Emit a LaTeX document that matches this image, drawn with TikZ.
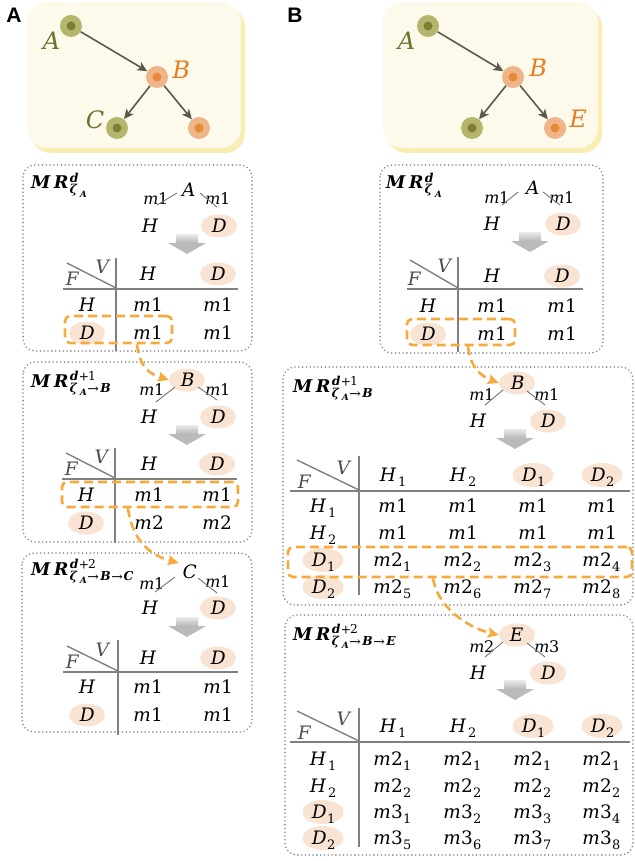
\documentclass[tikz,border=0pt]{standalone}
\usepackage{fontspec}
\usepackage{unicode-math}
\setmathfont{DejaVu Math TeX Gyre}
\usetikzlibrary{arrows.meta,shapes.geometric}

\newfontfamily\panelfont{Liberation Sans}

\definecolor{cream}{HTML}{FDF9EB}
\definecolor{creamshadow}{HTML}{FAEDB2}
\definecolor{olivelt}{HTML}{B6B56E}
\definecolor{olivedk}{HTML}{7C7E32}
\definecolor{olivetxt}{HTML}{70702E}
\definecolor{orangelt}{HTML}{EEB688}
\definecolor{orangedk}{HTML}{E8893A}
\definecolor{orangetxt}{HTML}{E47E24}
\definecolor{edgegrey}{HTML}{585B4C}
\definecolor{peach}{HTML}{F9E3D3}
\definecolor{flowor}{HTML}{F7A93C}
\definecolor{boxgrey}{HTML}{8C8C8C}
\definecolor{rulegrey}{HTML}{808080}

\tikzset{
  olivept/.style={circle,fill=olivelt,minimum size=22pt,inner sep=0pt},
  orangept/.style={circle,fill=orangelt,minimum size=22pt,inner sep=0pt},
  treearrow/.style={draw=edgegrey,line width=1.6pt,-{Stealth[length=10pt,width=9pt,inset=2.5pt]}},
  panellbl/.style={inner sep=0pt,font=\panelfont\bfseries\fontsize{21}{21}\selectfont},
  toplbl/.style={inner sep=0pt,font=\fontsize{24}{24}\selectfont},
  mrbox/.style={draw=boxgrey,line width=1.8pt,line cap=round,dash pattern=on 0pt off 3.8pt,rounded corners=12pt},
  mrtitle/.style={anchor=base west,inner sep=0pt,font=\fontsize{17.5}{17.5}\selectfont},
  bigtxt/.style={inner sep=0pt,text height=13.5pt,text depth=0pt,font=\fontsize{18.5}{18.5}\selectfont},
  mtxt/.style={inner sep=0pt,text height=11.7pt,text depth=0pt,font=\fontsize{16}{16}\selectfont},
  fvtxt/.style={bigtxt,text=black!70},
  hlnode/.style={bigtxt,ellipse,fill=peach,minimum width=36pt,minimum height=23pt},
  hlwide/.style={hlnode,minimum width=41pt,minimum height=24pt},
  twig/.style={draw=black!55,line width=0.9pt},
  tabrule/.style={draw=rulegrey,line width=2pt},
  diag/.style={draw=rulegrey,line width=1.4pt},
  selbox/.style={draw=flowor,line width=2.6pt,dash pattern=on 9pt off 5pt,rounded corners=5pt,inner sep=0pt},
  flowarrow/.style={draw=flowor,line width=2.6pt,dash pattern=on 9pt off 5pt,-{Stealth[length=11pt,width=10pt,inset=2pt]}},
  greyarrow/.pic={
    \shade[top color=black!8,bottom color=black!28] (-11,-9) rectangle (11,0);
    \fill[black!27] (-19,0) -- (19,0) -- (0,11) -- cycle;
  },
}

\begin{document}
\begin{tikzpicture}[x=1pt,y=-1pt]
\useasboundingbox (0,0) rectangle (634,861);

\node[panellbl] (pA) at (14,15) {A};
\node[panellbl] (pB) at (295,15) {B};

% tree A
\fill[creamshadow,rounded corners=20pt] (31,7) rectangle (245,153);
\fill[cream,rounded corners=20pt] (27,2) rectangle (241,148);
\node[olivept] (taA) at (71,26) {};
\node[orangept] (taB) at (157,77) {};
\node[olivept] (taC) at (117,128) {};
\node[orangept] (taX) at (199,128) {};
\fill[olivedk] (taA) circle[radius=4.5];
\fill[orangedk] (taB) circle[radius=4.5];
\fill[olivedk] (taC) circle[radius=4.5];
\fill[orangedk] (taX) circle[radius=4.5];
\draw[treearrow] (taA) -- (taB);
\draw[treearrow] (taB) -- (taC);
\draw[treearrow] (taB) -- (taX);
\node[toplbl,text=olivetxt] (laA) at (50,41) {$A$};
\node[toplbl,text=orangetxt] (laB) at (181,70) {$B$};
\node[toplbl,text=olivetxt] (laC) at (96,120) {$C$};

% tree B
\fill[creamshadow,rounded corners=20pt] (387,7) rectangle (602,153);
\fill[cream,rounded corners=20pt] (383,2) rectangle (598,148);
\node[olivept] (tbA) at (428,26) {};
\node[orangept] (tbB) at (513,77) {};
\node[olivept] (tbX) at (472,128) {};
\node[orangept] (tbE) at (555,128) {};
\fill[olivedk] (tbA) circle[radius=4.5];
\fill[orangedk] (tbB) circle[radius=4.5];
\fill[olivedk] (tbX) circle[radius=4.5];
\fill[orangedk] (tbE) circle[radius=4.5];
\draw[treearrow] (tbA) -- (tbB);
\draw[treearrow] (tbB) -- (tbX);
\draw[treearrow] (tbB) -- (tbE);
\node[toplbl,text=olivetxt] (lbA) at (405,41) {$A$};
\node[toplbl,text=orangetxt] (lbB) at (538,68) {$B$};
\node[toplbl,text=orangetxt] (lbE) at (578,119) {$E$};

% A, depth d
\draw[mrbox] (23,165) rectangle (252,351);
\node[mrtitle] (a1t) at (29,189) {$\symbfit{MR}^{\symbfit{d}}_{\symbfit{\zeta}_{\symbfit{A}}}$};
\begin{scope}[shift={(188,190)}]
  \node[bigtxt] (a1r) at (0,0) {$A$};
  \node[mtxt] (a1ml) at (-32,9) {$m1$};
  \node[mtxt] (a1mr) at (30,9) {$m1$};
  \node[bigtxt] (a1h) at (-38,36) {$H$};
  \node[hlnode] (a1d) at (31,36) {$D$};
  \draw[twig] ([shift={(-11,3)}]a1r.center) -- ([shift={(7,-21)}]a1h.center);
  \draw[twig] ([shift={(12,3)}]a1r.center) -- ([shift={(-2,-19)}]a1d.center);
  \pic at (-1,53) {greyarrow};
  \draw[tabrule] (-72,68) -- (-72,161);
  \draw[tabrule] (-125,99) -- (50,99);
  \draw[diag] (-121,73) -- (-72,98);
  \node[fvtxt] (a1f) at (-115,89) {$F$};
  \node[fvtxt] (a1v) at (-84,77) {$V$};
  \node[bigtxt] (a1c1) at (-40,84) {$H$};
  \node[hlnode] (a1c2) at (30,84) {$D$};
  \node[bigtxt] (a1w1) at (-101,115) {$H$};
  \node[hlnode] (a1w2) at (-101,143) {$D$};
  \node[bigtxt] (a111) at (-40,115) {$m1$};
  \node[bigtxt] (a112) at (30,115) {$m1$};
  \node[bigtxt] (a121) at (-40,143) {$m1$};
  \node[bigtxt] (a122) at (30,143) {$m1$};
\end{scope}
\node[selbox,minimum width=107pt,minimum height=27pt] (a1sel) at (118.5,329.5) {};

% A, depth d+1
\draw[mrbox] (23,362) rectangle (252,542);
\node[mrtitle] (a2t) at (29,387) {$\symbfit{MR}^{\symbfit{d+1}}_{\symbfit{\zeta}_{\symbfit{A}}\rightarrow\symbfit{B}}$};
\begin{scope}[shift={(187,380)}]
  \node[hlnode] (a2r) at (0,0) {$B$};
  \node[mtxt] (a2ml) at (-35,10) {$m1$};
  \node[mtxt] (a2mr) at (31,10) {$m1$};
  \node[bigtxt] (a2h) at (-38,37) {$H$};
  \node[hlnode] (a2d) at (31,37) {$D$};
  \draw[twig] ([shift={(-12,7)}]a2r.center) -- ([shift={(7,-15)}]a2h.center);
  \draw[twig] ([shift={(11,7)}]a2r.center) -- ([shift={(-1,-17)}]a2d.center);
  \pic at (0,54) {greyarrow};
  \draw[tabrule] (-72,68) -- (-72,163);
  \draw[tabrule] (-125,99) -- (50,99);
  \draw[diag] (-121,73) -- (-72,98);
  \node[fvtxt] (a2f) at (-115,89) {$F$};
  \node[fvtxt] (a2v) at (-84,77) {$V$};
  \node[bigtxt] (a2c1) at (-38,84) {$H$};
  \node[hlnode] (a2c2) at (30,84) {$D$};
  \node[bigtxt] (a2w1) at (-101,115) {$H$};
  \node[hlnode] (a2w2) at (-101,143) {$D$};
  \node[bigtxt] (a211) at (-38,115) {$m1$};
  \node[bigtxt] (a212) at (30,115) {$m1$};
  \node[bigtxt] (a221) at (-38,143) {$m2$};
  \node[bigtxt] (a222) at (30,143) {$m2$};
\end{scope}
\node[selbox,minimum width=176pt,minimum height=25pt] (a2sel) at (150,494.5) {};

% A, depth d+2
\draw[mrbox] (22,553) rectangle (252,732);
\node[mrtitle] (a3t) at (29,575) {$\symbfit{MR}^{\symbfit{d+2}}_{\symbfit{\zeta}_{\symbfit{A}}\rightarrow\symbfit{B}\rightarrow\symbfit{C}}$};
\begin{scope}[shift={(190,572)}]
  \node[bigtxt] (a3r) at (0,0) {$C$};
  \node[mtxt] (a3ml) at (-38,12) {$m1$};
  \node[mtxt] (a3mr) at (28,10) {$m1$};
  \node[bigtxt] (a3h) at (-40,36) {$H$};
  \node[hlnode] (a3d) at (28,36) {$D$};
  \draw[twig] ([shift={(-15,5)}]a3r.center) -- ([shift={(5,-16)}]a3h.center);
  \draw[twig] ([shift={(8,6)}]a3r.center) -- ([shift={(-1,-15)}]a3d.center);
  \pic at (-3,54) {greyarrow};
  \draw[tabrule] (-72,68) -- (-72,163);
  \draw[tabrule] (-127,100) -- (48,100);
  \draw[diag] (-123,74) -- (-72,99);
  \node[fvtxt] (a3f) at (-117,90) {$F$};
  \node[fvtxt] (a3v) at (-86,78) {$V$};
  \node[bigtxt] (a3c1) at (-42,86) {$H$};
  \node[hlnode] (a3c2) at (28,86) {$D$};
  \node[bigtxt] (a3w1) at (-103,115) {$H$};
  \node[hlnode] (a3w2) at (-103,143) {$D$};
  \node[bigtxt] (a311) at (-42,115) {$m1$};
  \node[bigtxt] (a312) at (28,115) {$m1$};
  \node[bigtxt] (a321) at (-42,143) {$m1$};
  \node[bigtxt] (a322) at (28,143) {$m1$};
\end{scope}

% B, depth d
\draw[mrbox] (380,165) rectangle (603,353);
\node[mrtitle] (b1t) at (384,189) {$\symbfit{MR}^{\symbfit{d}}_{\symbfit{\zeta}_{\symbfit{A}}}$};
\begin{scope}[shift={(532,188)}]
  \node[bigtxt] (b1r) at (0,0) {$A$};
  \node[mtxt] (b1ml) at (-35,10) {$m1$};
  \node[mtxt] (b1mr) at (30,10) {$m1$};
  \node[bigtxt] (b1h) at (-40,36) {$H$};
  \node[hlnode] (b1d) at (31,36) {$D$};
  \draw[twig] ([shift={(-14,4)}]b1r.center) -- ([shift={(10,-19)}]b1h.center);
  \draw[twig] ([shift={(11,4)}]b1r.center) -- ([shift={(-3,-19)}]b1d.center);
  \pic at (-2,53) {greyarrow};
  \draw[tabrule] (-74,69) -- (-74,164);
  \draw[tabrule] (-125,101) -- (51,101);
  \draw[diag] (-122,72) -- (-74,100);
  \node[fvtxt] (b1f) at (-117,91) {$F$};
  \node[fvtxt] (b1v) at (-86,78) {$V$};
  \node[bigtxt] (b1c1) at (-40,88) {$H$};
  \node[hlnode] (b1c2) at (30,88) {$D$};
  \node[bigtxt] (b1w1) at (-104,118) {$H$};
  \node[hlnode] (b1w2) at (-104,146) {$D$};
  \node[bigtxt] (b111) at (-40,118) {$m1$};
  \node[bigtxt] (b112) at (30,118) {$m1$};
  \node[bigtxt] (b121) at (-40,146) {$m1$};
  \node[bigtxt] (b122) at (30,146) {$m1$};
\end{scope}
\node[selbox,minimum width=108pt,minimum height=26pt] (b1sel) at (461,332) {};

% B, depth d+1
\draw[mrbox] (283,367) rectangle (633,605);
\node[mrtitle] (b2t) at (291,392) {$\symbfit{MR}^{\symbfit{d+1}}_{\symbfit{\zeta}_{\symbfit{A}}\rightarrow\symbfit{B}}$};
\begin{scope}[shift={(517,383)}]
  \node[hlnode] (b2r) at (0,0) {$B$};
  \node[mtxt] (b2ml) at (-35,12) {$m1$};
  \node[mtxt] (b2mr) at (30,12) {$m1$};
  \node[bigtxt] (b2h) at (-39,38) {$H$};
  \node[hlnode] (b2d) at (31,38) {$D$};
  \draw[twig] ([shift={(-14,7)}]b2r.center) -- ([shift={(7,-16)}]b2h.center);
  \draw[twig] ([shift={(10,8)}]b2r.center) -- ([shift={(-3,-16)}]b2d.center);
  \pic at (-2,55) {greyarrow};
  \draw[tabrule] (-158,73) -- (-158,212);
  \draw[tabrule] (-227,108) -- (113,108);
  \draw[diag] (-220,77) -- (-158,107);
  \node[fvtxt] (b2f) at (-212,99) {$F$};
  \node[fvtxt] (b2v) at (-172,85) {$V$};
  \node[bigtxt] (b2c1) at (-124,92) {$H_1$};
  \node[bigtxt] (b2c2) at (-54,92) {$H_2$};
  \node[hlwide] (b2c3) at (16,92) {$D_1$};
  \node[hlwide] (b2c4) at (85,92) {$D_2$};
  \node[bigtxt] (b2w1) at (-194,123) {$H_1$};
  \node[bigtxt] (b2w2) at (-194,150) {$H_2$};
  \node[hlwide] (b2w3) at (-194,177) {$D_1$};
  \node[hlwide] (b2w4) at (-194,204) {$D_2$};
  \foreach \x/\i/\j in {-124/1/5,-54/2/6,16/3/7,85/4/8} {
    \node[bigtxt] (b2p\i) at (\x,123) {$m1$};
    \node[bigtxt] (b2q\i) at (\x,150) {$m1$};
    \node[bigtxt] (b2s\i) at (\x,177) {$m2_{\i}$};
    \node[bigtxt] (b2u\i) at (\x,204) {$m2_{\j}$};
  }
\end{scope}
\node[selbox,minimum width=344pt,minimum height=30pt] (b2sel) at (460,562) {};

% B, depth d+2
\draw[mrbox] (285,615) rectangle (633,855);
\node[mrtitle] (b3t) at (291,640) {$\symbfit{MR}^{\symbfit{d+2}}_{\symbfit{\zeta}_{\symbfit{A}}\rightarrow\symbfit{B}\rightarrow\symbfit{E}}$};
\begin{scope}[shift={(517,635)}]
  \node[hlnode] (b3r) at (0,0) {$E$};
  \node[mtxt] (b3ml) at (-35,12) {$m2$};
  \node[mtxt] (b3mr) at (30,12) {$m3$};
  \node[bigtxt] (b3h) at (-39,38) {$H$};
  \node[hlnode] (b3d) at (31,38) {$D$};
  \draw[twig] ([shift={(-14,7)}]b3r.center) -- ([shift={(7,-16)}]b3h.center);
  \draw[twig] ([shift={(10,8)}]b3r.center) -- ([shift={(-3,-16)}]b3d.center);
  \pic at (-2,54) {greyarrow};
  \draw[tabrule] (-158,73) -- (-158,212);
  \draw[tabrule] (-227,107) -- (113,107);
  \draw[diag] (-220,76) -- (-158,106);
  \node[fvtxt] (b3f) at (-212,98) {$F$};
  \node[fvtxt] (b3v) at (-172,84) {$V$};
  \node[bigtxt] (b3c1) at (-124,91) {$H_1$};
  \node[bigtxt] (b3c2) at (-54,91) {$H_2$};
  \node[hlwide] (b3c3) at (16,91) {$D_1$};
  \node[hlwide] (b3c4) at (85,91) {$D_2$};
  \node[bigtxt] (b3w1) at (-194,124) {$H_1$};
  \node[bigtxt] (b3w2) at (-194,151) {$H_2$};
  \node[hlwide] (b3w3) at (-194,177) {$D_1$};
  \node[hlwide] (b3w4) at (-194,203) {$D_2$};
  \foreach \x/\i/\j in {-124/1/5,-54/2/6,16/3/7,85/4/8} {
    \node[bigtxt] (b3p\i) at (\x,124) {$m2_1$};
    \node[bigtxt] (b3q\i) at (\x,151) {$m2_2$};
    \node[bigtxt] (b3s\i) at (\x,177) {$m3_{\i}$};
    \node[bigtxt] (b3u\i) at (\x,203) {$m3_{\j}$};
  }
\end{scope}

% flow of the selected rows
\draw[flowarrow] ([xshift=18.5pt]a1sel.south) .. controls +(3,25) and +(-18,-6) .. (a2r.west);
\draw[flowarrow] ([xshift=-22pt]a2sel.south) .. controls +(5,38) and +(-22,-6) .. ([shift={(-3,-2)}]a3r.north west);
\draw[flowarrow] ([xshift=7pt]b1sel.south) .. controls +(2,22) and +(-16,-6) .. (b2r.west);
\draw[flowarrow] ([xshift=-27pt]b2sel.south) .. controls +(6,35) and +(-22,-5) .. (b3r.west);
\end{tikzpicture}
\end{document}
